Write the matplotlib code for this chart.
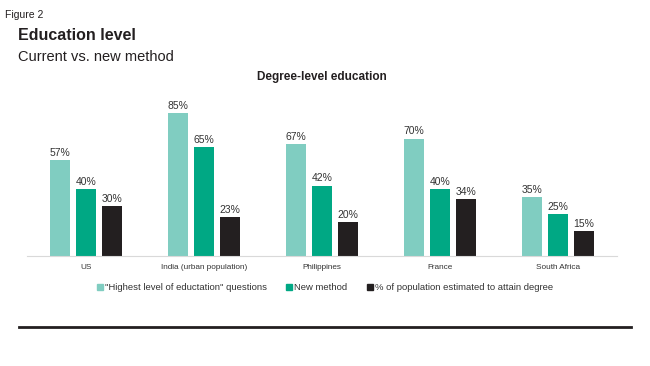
import matplotlib
matplotlib.use("Agg")
import matplotlib.pyplot as plt
from matplotlib.lines import Line2D
import numpy as np

plt.rcParams['font.family'] = ['Liberation Sans', 'DejaVu Sans']

categories = ["US", "India (urban population)", "Philippines", "France", "South Africa"]
series_names = ['"Highest level of eductation" questions', "New method",
                "% of population estimated to attain degree"]
highest_level = [57, 85, 67, 70, 35]
new_method = [40, 65, 42, 40, 25]
attain_degree = [30, 23, 20, 34, 15]
colors = ["#80cdc1", "#00a884", "#231f20"]

W, H = 650, 366
fig = plt.figure(figsize=(W / 100, H / 100), dpi=100)

def fx(px):
    return px / W

def fy(py):
    return 1 - py / H

ax = fig.add_axes([fx(27), fy(256), fx(617) - fx(27), fy(105) - fy(256)])

x = np.arange(len(categories))
offsets = [-0.22, 0.0, 0.22]
width = 0.172
for vals, off, col, name in zip([highest_level, new_method, attain_degree], offsets, colors, series_names):
    bars = ax.bar(x + off, vals, width, color=col, label=name)
    for b, v in zip(bars, vals):
        ax.annotate(f"{v}%", (b.get_x() + b.get_width() / 2, v), xytext=(0, 1.5),
                    textcoords="offset points", ha="center", va="bottom",
                    fontsize=7.5, color="#333333")

ax.set_xlim(-0.5, len(categories) - 0.5)
ax.set_ylim(0, 90)
ax.set_xticks(x)
ax.set_xticklabels(categories, fontsize=5.9, color="#333333")
ax.tick_params(axis="x", length=0, pad=5.5)
ax.set_yticks([])
for s in ["top", "right", "left"]:
    ax.spines[s].set_visible(False)
ax.spines["bottom"].set_color("#d9d9d9")
ax.spines["bottom"].set_linewidth(0.8)

handles = [Line2D([0], [0], marker="s", linestyle="none", markersize=4.5,
                  markerfacecolor=c, markeredgecolor=c) for c in colors]
fig.legend(handles, series_names, loc="center", bbox_to_anchor=(fx(324), fy(288)),
           ncol=3, frameon=False, fontsize=6.8, handletextpad=0.0, columnspacing=1.9,
           handlelength=1.0, labelcolor="#333333")

fig.text(fx(5), fy(15), "Figure 2", fontsize=7.5, va="center", ha="left",
         family=["Liberation Sans Narrow", "Liberation Sans"], color="#231f20")
fig.text(fx(18), fy(35), "Education level", fontsize=11.5, fontweight="bold",
         va="center", ha="left", color="#231f20")
fig.text(fx(18), fy(57), "Current vs. new method", fontsize=10.5,
         va="center", ha="left", color="#231f20")
fig.text(fx(322), fy(77), "Degree-level education", fontsize=8.5, fontweight="bold",
         va="center", ha="center", color="#231f20")

fig.add_artist(Line2D([fx(19), fx(631)], [fy(327), fy(327)], color="#231f20",
                      linewidth=2, transform=fig.transFigure))

fig.savefig("out.png", dpi=100)
